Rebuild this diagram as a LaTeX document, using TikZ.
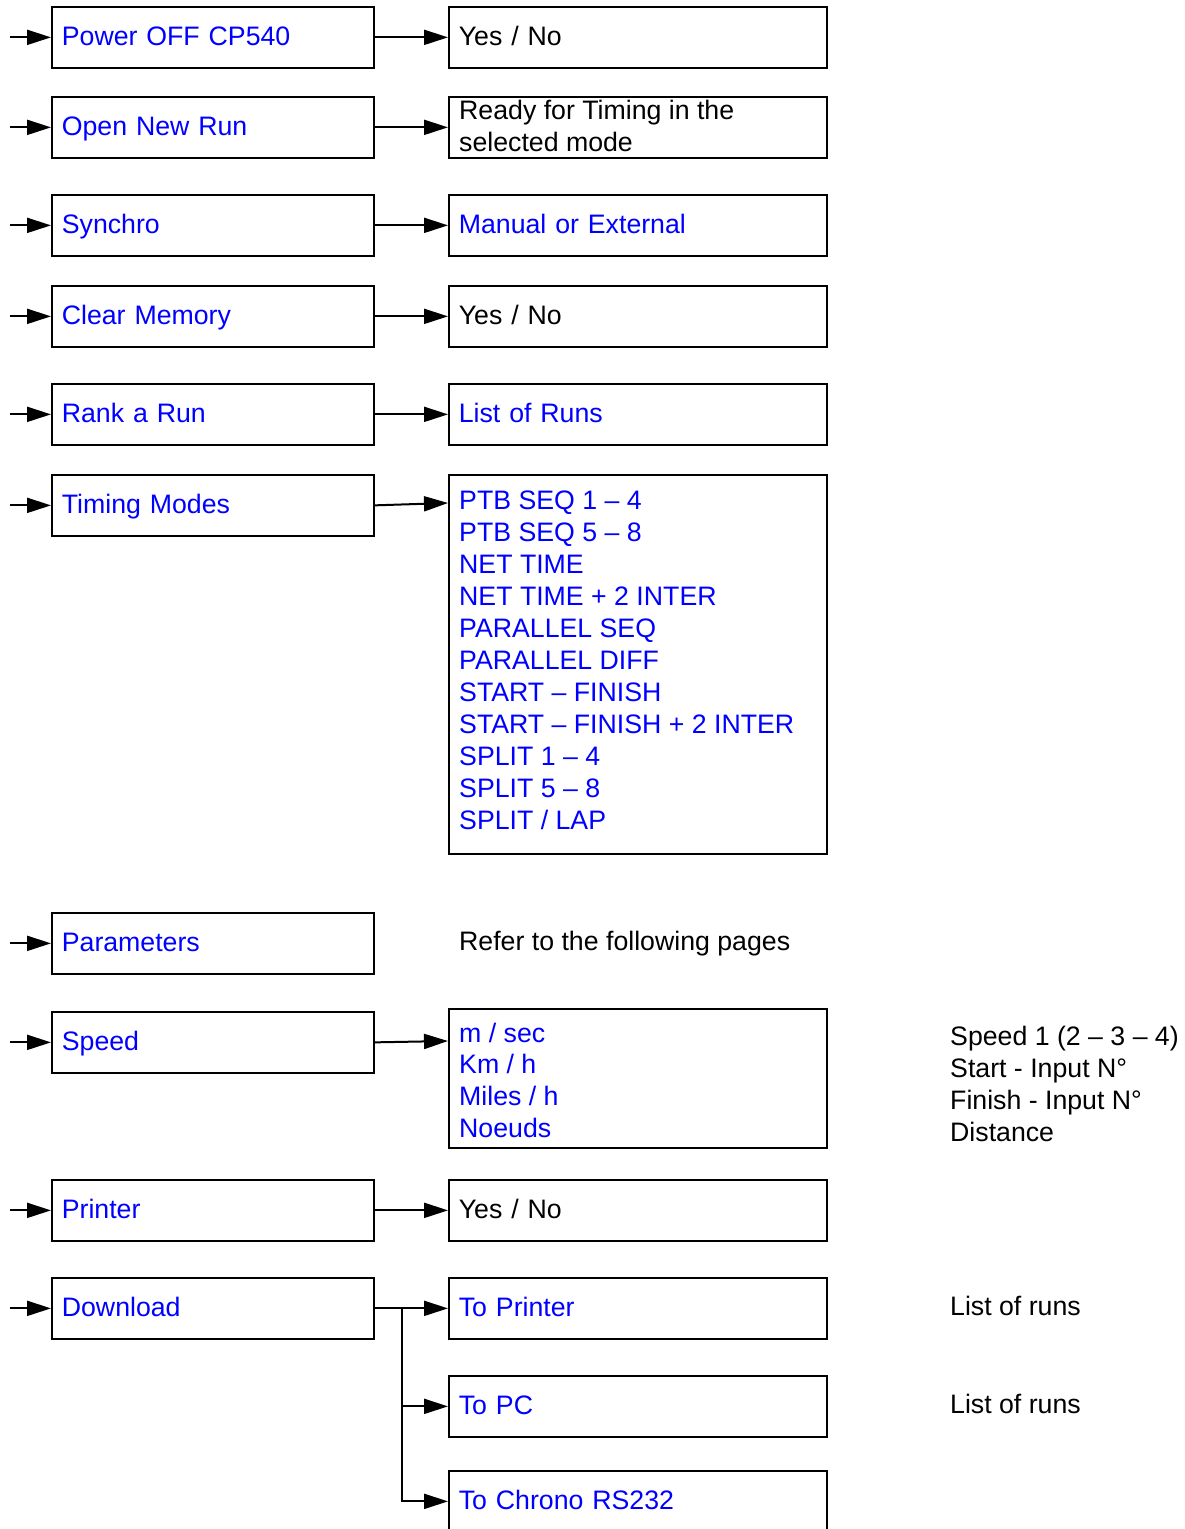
\documentclass[tikz,border=0pt]{standalone}
\usepackage{fontspec}
\setmainfont{Liberation Sans}
\usetikzlibrary{arrows.meta}
\definecolor{txtblue}{RGB}{0,0,255}
\begin{document}
\begin{tikzpicture}[x=1pt,y=-1pt,
  every node/.style={font=\fontsize{26.7}{32}\selectfont},
  lbox/.style={draw, line width=1.7pt, anchor=north west, minimum width=322pt, minimum height=61pt, text width=302pt, inner xsep=10pt, inner ysep=0pt, align=left, text height=21pt, text depth=4pt},
  rbox/.style={lbox, minimum width=378pt, text width=358pt},
  blu/.style={text=txtblue},
  txtline/.style={inner sep=0pt, anchor=base west},
  arr/.style={line width=2pt, -{Triangle[length=24pt,width=15pt]}},
  conn/.style={line width=2pt},
]
\path[use as bounding box, clip] (0,0) rectangle (1185,1529);

\node[lbox,blu] (l1) at (51,6) {Power OFF CP540};
\node[rbox] (r1) at (448,6) {Yes / No};

\node[lbox,blu] (l2) at (51,96) {Open New Run};
\node[rbox] (r2) at (448,96) {};
\node[txtline] (rd1) at (459,119) {Ready for Timing in the};
\node[txtline] (rd2) at (459,151) {selected mode};

\node[lbox,blu] (l3) at (51,194) {Synchro};
\node[rbox,blu] (r3) at (448,194) {Manual or External};

\node[lbox,blu] (l4) at (51,285) {Clear Memory};
\node[rbox] (r4) at (448,285) {Yes / No};

\node[lbox,blu] (l5) at (51,383) {Rank a Run};
\node[rbox,blu] (r5) at (448,383) {List of Runs};

\node[lbox,blu] (l6) at (51,474) {Timing Modes};
\node[rbox,minimum height=379pt] (r6) at (448,474) {};
\foreach \t [count=\i from 0] in {PTB SEQ 1 – 4, PTB SEQ 5 – 8, NET TIME, NET TIME + 2 INTER, PARALLEL SEQ, PARALLEL DIFF, START – FINISH, START – FINISH + 2 INTER, SPLIT 1 – 4, SPLIT 5 – 8, SPLIT / LAP}
  \node[txtline,blu] (tm\i) at (459,509+32*\i) {\t};

\node[lbox,blu] (l7) at (51,912) {Parameters};
\node[txtline] (ref) at (459,950) {Refer to the following pages};

\node[lbox,blu] (l8) at (51,1011) {Speed};
\node[rbox,minimum height=139pt] (r8) at (448,1008) {};
\foreach \t [count=\i from 0] in {m / sec, Km / h, Miles / h, Noeuds}
  \node[txtline,blu] (sp\i) at (459,1042+31.7*\i) {\t};
\foreach \t [count=\i from 0] in {Speed 1 (2 – 3 – 4), Start - Input N°, Finish - Input N°, Distance}
  \node[txtline] (rs\i) at (950,1045+32*\i) {\t};

\node[lbox,blu] (l9) at (51,1179) {Printer};
\node[rbox] (r9) at (448,1179) {Yes / No};

\node[lbox,blu] (l10) at (51,1277) {Download};
\node[rbox,blu] (r10) at (448,1277) {To Printer};
\node[rbox,blu] (r11) at (448,1375) {To PC};
\node[rbox,blu] (r12) at (448,1470) {To Chrono RS232};
\node[txtline] (lr1) at (950,1315) {List of runs};
\node[txtline] (lr2) at (950,1413) {List of runs};

% incoming arrows
\foreach \n in {l1,l2,l3,l4,l5,l6,l7,l8,l9,l10}
  \draw[arr] ([xshift=-41pt]\n.west) -- (\n.west);

% connectors
\foreach \a/\b in {l1/r1,l2/r2,l3/r3,l4/r4,l5/r5,l9/r9,l10/r10}
  \draw[arr] (\a.east) -- (\b.west);
\draw[arr] (l6.east) -- ([yshift=-29pt]r6.north west);
\draw[arr] (l8.east) -- ([yshift=-33pt]r8.north west);

\coordinate (br) at ([xshift=27pt]l10.east);
\draw[arr] (br) |- (r12.west);
\draw[arr] (br |- r11.west) -- (r11.west);
\end{tikzpicture}
\end{document}
